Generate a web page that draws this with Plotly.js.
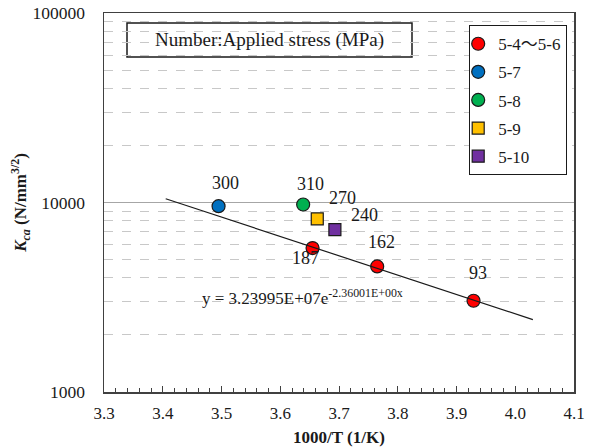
<!DOCTYPE html>
<html>
<head>
<meta charset="utf-8">
<script src="https://cdn.plot.ly/plotly-3.0.1.min.js"></script>
<style>html,body{margin:0;padding:0;background:#fff;}#chart{width:590px;height:448px;}</style>
</head>
<body>
<div id="chart"></div>
<script>
// Series data (x = 1000/T, y = Kca)
const s1Name = "5-4～5-6";
const s1X = [3.655, 3.765, 3.929];
const s1Y = [5750, 4600, 3030];
const s1Labels = ["187", "162", "93"];

const s2Name = "5-7";
const s2X = [3.495];
const s2Y = [9560];
const s2Labels = ["300"];

const s3Name = "5-8";
const s3X = [3.639];
const s3Y = [9760];
const s3Labels = ["310"];

const s4Name = "5-9";
const s4X = [3.663];
const s4Y = [8200];
const s4Labels = ["270"];

const s5Name = "5-10";
const s5X = [3.693];
const s5Y = [7200];
const s5Labels = ["240"];

// Trendline endpoints
const trendX = [3.405, 4.03];
const trendY = [10470, 2410];

const xTickVals = [3.3, 3.4, 3.5, 3.6, 3.7, 3.8, 3.9, 4.0, 4.1];
const xTickText = ["3.3", "3.4", "3.5", "3.6", "3.7", "3.8", "3.9", "4.0", "4.1"];
const yTickVals = [1000, 10000, 100000];
const yTickText = ["1000", "10000", "100000"];
const yMinorVals = [2000,3000,4000,5000,6000,7000,8000,9000,20000,30000,40000,50000,60000,70000,80000,90000];

const serif = "Liberation Serif, Noto Sans CJK JP";

function mk(name, x, y, color, symbol, size) {
  return {
    type: "scatter", mode: "markers", name: name, x: x, y: y,
    legendgroup: name,
    marker: {color: color, symbol: symbol, size: size, line: {color: "#1a1a1a", width: 1.2}},
    hoverinfo: "skip"
  };
}

const traces = [
  mk(s1Name, s1X, s1Y, "#ff0000", "circle", 13),
  mk(s2Name, s2X, s2Y, "#0070c0", "circle", 13),
  mk(s3Name, s3X, s3Y, "#00b050", "circle", 13),
  mk(s4Name, s4X, s4Y, "#ffc000", "square", 12),
  mk(s5Name, s5X, s5Y, "#7030a0", "square", 12),
  {type: "scatter", mode: "lines", x: trendX, y: trendY, showlegend: false,
   line: {color: "#1a1a1a", width: 1.2}, hoverinfo: "skip"}
];

// label offsets (pixels) per series point
const labelSets = [
  [s1X, s1Y, s1Labels, [[-7, 10], [4, -24], [4, -28]]],
  [s2X, s2Y, s2Labels, [[7, -23]]],
  [s3X, s3Y, s3Labels, [[7, -21]]],
  [s4X, s4Y, s4Labels, [[25, -21]]],
  [s5X, s5Y, s5Labels, [[30, -15]]]
];
const annotations = [];
labelSets.forEach(([xs, ys, ls, offs]) => {
  xs.forEach((x, i) => {
    annotations.push({
      x: x, y: Math.log10(ys[i]), xref: "x", yref: "y", text: ls[i],
      xanchor: "center", yanchor: "middle",
      showarrow: false, xshift: offs[i][0], yshift: -offs[i][1],
      font: {family: serif, size: 18, color: "#1a1a1a"}
    });
  });
});
annotations.push({
  x: 3.463, y: Math.log10(3155), xref: "x", yref: "y", xanchor: "left", yanchor: "middle",
  text: "y = 3.23995E+07e<sup>-2.36001E+00x</sup>", showarrow: false,
  font: {family: serif, size: 17, color: "#1a1a1a"}
});
annotations.push({
  x: ((127 + 412) / 2 - 104) / 470, y: (392 - 40) / 379, xref: "paper", yref: "paper",
  xanchor: "center", yanchor: "middle", showarrow: false,
  text: "Number:Applied stress (MPa)",
  font: {family: serif, size: 19, color: "#1a1a1a"}
});

const layout = {
  width: 590, height: 448,
  margin: {l: 104, r: 16, t: 13, b: 56},
  paper_bgcolor: "#ffffff", plot_bgcolor: "#ffffff",
  font: {family: serif, color: "#1a1a1a"},
  showlegend: true,
  legend: {
    x: (469 - 104) / 470, y: (392 - 25) / 379, xanchor: "left", yanchor: "top",
    bordercolor: "#1a1a1a", borderwidth: 1.2, bgcolor: "#ffffff",
    font: {family: serif, size: 17, color: "#1a1a1a"},
    tracegroupgap: 3, itemwidth: 30, indentation: -12
  },
  xaxis: {
    range: [3.3, 4.1], tickmode: "array", tickvals: xTickVals, ticktext: xTickText,
    showgrid: false, zeroline: false,
    showline: true, linecolor: "#404040", linewidth: 1.5, mirror: true,
    ticks: "inside", ticklen: 6, tickcolor: "#404040", tickwidth: 1,
    minor: {dtick: 0.02, ticks: "inside", ticklen: 4, tickcolor: "#404040", tickwidth: 1, showgrid: false},
    tickfont: {family: serif, size: 17, color: "#1a1a1a"},
    ticklabelstandoff: 5,
    title: {text: "<b>1000/T (1/K)</b>", font: {family: serif, size: 17, color: "#1a1a1a"}, standoff: 9}
  },
  yaxis: {
    type: "log", range: [3, 5], tickmode: "array", tickvals: yTickVals, ticktext: yTickText,
    showgrid: true, gridcolor: "#a6a6a6", gridwidth: 1,
    zeroline: false,
    showline: true, linecolor: "#404040", linewidth: 1.5, mirror: true,
    ticks: "",
    minor: {tickmode: "array", tickvals: yMinorVals, showgrid: true, gridcolor: "#c8c8c8", griddash: "dash", gridwidth: 1, ticks: ""},
    tickfont: {family: serif, size: 17.5, color: "#1a1a1a"},
    ticklabelstandoff: 14,
    title: {text: "<b><i>K<sub>ca</sub></i> (N/mm<sup>3/2</sup>)</b>", font: {family: serif, size: 17, color: "#1a1a1a"}, standoff: 1}
  },
  annotations: annotations,
  shapes: [{
    type: "rect", xref: "paper", yref: "paper",
    x0: (127 - 104) / 470, x1: (412 - 104) / 470,
    y0: (392 - 57) / 379, y1: (392 - 23) / 379,
    line: {color: "#1a1a1a", width: 1.5}, fillcolor: "#ffffff", layer: "below"
  }]
};

Plotly.newPlot("chart", traces, layout, {staticPlot: true});
</script>
</body>
</html>
